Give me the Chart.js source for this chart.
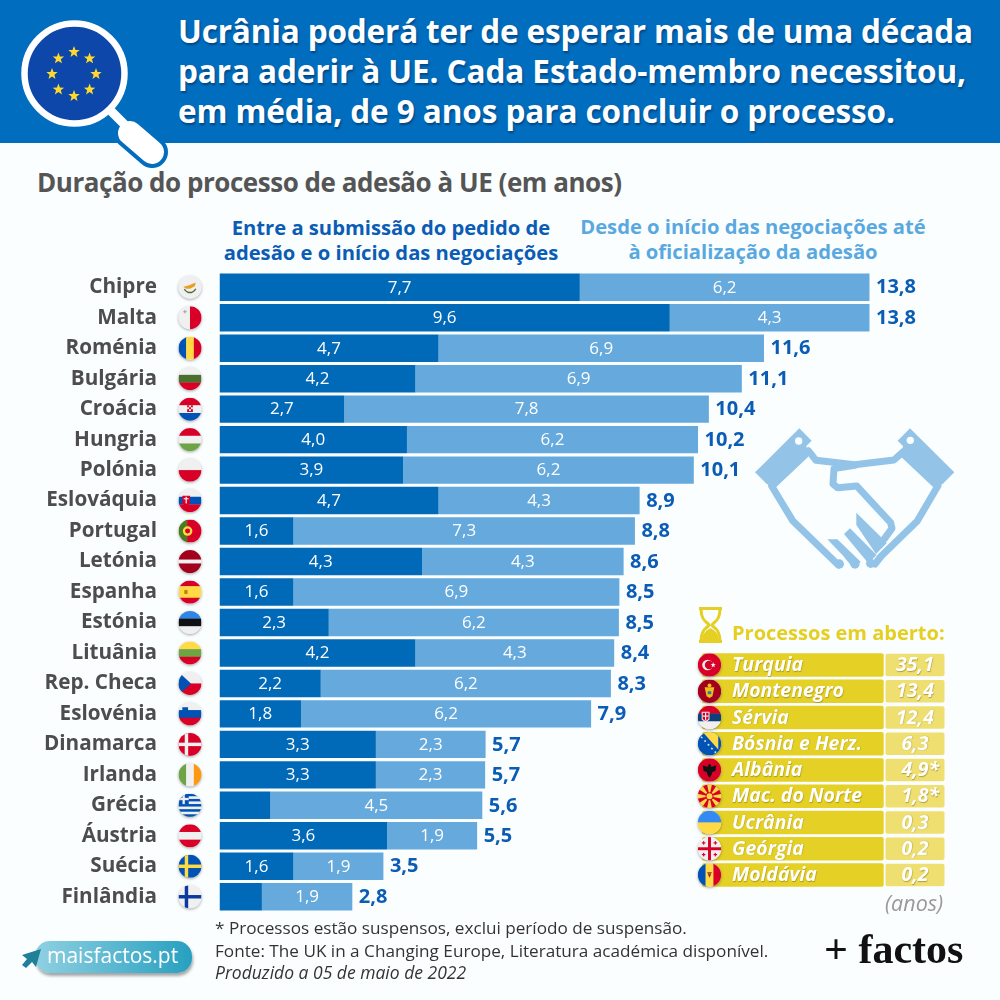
<!DOCTYPE html>
<html lang="pt"><head><meta charset="utf-8">
<script src="https://cdn.jsdelivr.net/npm/chart.js@4"></script>
<style>
html,body{margin:0;padding:0;background:#fbfeff;width:1000px;height:1000px;overflow:hidden}
body{position:relative;font-family:"Open Sans",sans-serif}
#band{position:absolute;left:0;top:0;width:1000px;height:143px;background:#006dbe}
.t{position:absolute;white-space:nowrap;line-height:1}
.h{font-size:31.5px;font-weight:700;color:#fff;text-shadow:1px 2px 2px rgba(0,40,90,.55);left:178px}
#c{position:absolute;left:0;top:0;width:1000px;height:1000px}
svg{position:absolute;left:0;top:0}
</style></head><body>
<div id="band"></div>
<svg width="1000" height="1000" viewBox="0 0 1000 1000" id="art">
 <defs><linearGradient id="pill" x1="0" x2="1"><stop offset="0" stop-color="#8fd0e2"/><stop offset="1" stop-color="#27a0c0"/></linearGradient>
 <filter id="sh" x="-20%" y="-20%" width="140%" height="150%"><feDropShadow dx="1" dy="3" stdDeviation="1.5" flood-color="#000" flood-opacity=".35"/></filter></defs>
 <!-- magnifier -->
 <g stroke-linecap="round">
  <line x1="130" y1="133" x2="152" y2="152" stroke="#006dbe" stroke-width="32"/>
  <line x1="112" y1="112" x2="125" y2="125" stroke="#fff" stroke-width="9"/>
  <line x1="130" y1="133" x2="152" y2="152" stroke="#fff" stroke-width="24"/>
 </g>
 <circle cx="74.500" cy="73.500" r="50" fill="#0d47a9" stroke="#fff" stroke-width="6.500"/>
 <g id="stars" fill="#ffd92e"></g>
 <!-- handshake -->
 <g transform="translate(740 410) scale(.3333)" fill="#93c4e8" stroke="none">
  <polygon points="45,187 178,55 215,92 199,108 205,140 108,232 80,222"/>
  <polygon points="643,187 510,55 473,92 489,108 483,140 580,232 608,222"/>
  <circle cx="176" cy="93" r="11" fill="#fbfeff"/><circle cx="511" cy="91" r="11" fill="#fbfeff"/>
  <g fill="none" stroke="#93c4e8" stroke-width="21" stroke-linejoin="round" stroke-linecap="round">
   <polyline points="205,122 228,151 344,164 462,150 490,125"/>
   <polyline points="95,228 158,332 295,465"/>
   <polyline points="594,227 532,333 424,438 405,462"/>
   <polyline points="344,166 282,176 279,222 293,233 350,228 452,338 456,355 432,388"/>
  </g>
  <polygon points="262,388 292,388 362,455 340,475 308,436"/>
  <polygon points="312,372 330,355 410,435 385,460"/>
  <polygon points="349,308 420,378 440,400 408,432 349,345"/>
  <circle cx="298" cy="462" r="14"/><circle cx="345" cy="462" r="14"/><circle cx="392" cy="460" r="14"/>
 </g>
 <!-- hourglass -->
 <g fill="none" stroke="#e5cf22" stroke-width="3">
  <path d="M699 608.500H722M699 641.500H722"/>
  <path d="M701 609C701 622 708 622 709 625C708 628 701 628 701 641M720 609C720 622 713 622 712 625C713 628 720 628 720 641"/>
 </g>
 <path d="M702 640C703 631 708 630 710.500 628C713 630 718 631 719 640Z" fill="#e5cf22"/>
 <!-- site pill -->
 <rect x="35" y="941" width="157" height="32" rx="15" fill="url(#pill)" filter="url(#sh)"/>
 <path d="M41 949L22 955L27 959L22 965L26 968L32 962L36 967Z" fill="#1f8098"/>
</svg>
<div class="t h" id="tt1" style="top:15px">Ucrânia poderá ter de esperar mais de uma década</div>
<div class="t h" id="tt2" style="top:55px">para aderir à UE. Cada Estado-membro necessitou,</div>
<div class="t h" id="tt3" style="top:95px">em média, de 9 anos para concluir o processo.</div>
<div class="t" id="sub" style="left:37px;top:169px;font-size:26px;font-weight:700;color:#555">Duração do processo de adesão à UE (em anos)</div>
<div id="lg0" class="t" style="left:191px;width:400px;top:215px;text-align:center;font-size:20.2px;font-weight:700;color:#0a5cb5;line-height:25px"></div>
<div id="lg1" class="t" style="left:553px;width:400px;top:214px;text-align:center;font-size:20.2px;font-weight:700;color:#5aa8e0;line-height:25px"></div>
<canvas id="c" width="1000" height="1000"></canvas>
<div class="t" style="left:215px;top:919px;font-size:17.15px;color:#333">* Processos estão suspensos, exclui período de suspensão.</div>
<div class="t" style="left:215px;top:942px;font-size:17.15px;color:#333">Fonte: The UK in a Changing Europe, Literatura académica disponível.</div>
<div class="t" style="left:215px;top:964px;font-size:17.5px;font-style:italic;color:#333">Produzido a 05 de maio de 2022</div>
<div class="t" style="left:47px;top:945px;font-size:21px;color:#fff">maisfactos.pt</div>
<div class="t" style="left:824px;top:928px;font-size:42px;font-weight:700;color:#111;font-family:'Liberation Serif',serif">+ factos</div>
<div class="t" style="left:885px;top:892px;font-size:21.5px;font-style:italic;color:#999">(anos)</div>
<script>
const seriesNames=[["Entre a submissão do pedido de","adesão e o início das negociações"],["Desde o início das negociações até","à oficialização da adesão"]];
const countries=["Chipre","Malta","Roménia","Bulgária","Croácia","Hungria","Polónia","Eslováquia","Portugal","Letónia","Espanha","Estónia","Lituânia","Rep. Checa","Eslovénia","Dinamarca","Irlanda","Grécia","Áustria","Suécia","Finlândia"];
const startYears=[7.65,9.56,4.65,4.16,2.65,3.98,3.9,4.65,1.57,4.3,1.57,2.32,4.16,2.15,1.73,3.32,3.32,1.08,3.56,1.57,0.9];
const negotiationYears=[6.15,4.24,6.91,6.93,7.74,6.18,6.17,4.27,7.25,4.28,6.92,6.16,4.22,6.16,6.16,2.33,2.32,4.5,1.91,1.91,1.92];
const startLabels=["7,7","9,6","4,7","4,2","2,7","4,0","3,9","4,7","1,6","4,3","1,6","2,3","4,2","2,2","1,8","3,3","3,3","","3,6","1,6",""];
const negotiationLabels=["6,2","4,3","6,9","6,9","7,8","6,2","6,2","4,3","7,3","4,3","6,9","6,2","4,3","6,2","6,2","2,3","2,3","4,5","1,9","1,9","1,9"];
const totalLabels=["13,8","13,8","11,6","11,1","10,4","10,2","10,1","8,9","8,8","8,6","8,5","8,5","8,4","8,3","7,9","5,7","5,7","5,6","5,5","3,5","2,8"];
const openTitle="Processos em aberto:";
const openNames=["Turquia","Montenegro","Sérvia","Bósnia e Herz.","Albânia","Mac. do Norte","Ucrânia","Geórgia","Moldávia"];
const openValues=["35,1","13,4","12,4","6,3","4,9","1,8","0,3","0,2","0,2"];
const openNotes=["","","","","*","*","","",""];

function fitW(id,w){const e=document.getElementById(id);const r=document.createRange();r.selectNodeContents(e);const cur=r.getBoundingClientRect().width;const n=e.textContent.length;e.style.letterSpacing=((w-cur)/(n-1)).toFixed(3)+'px';}
fitW('tt1',795);fitW('tt2',788);fitW('tt3',717);fitW('sub',585);
document.getElementById('lg0').innerHTML=seriesNames[0].join('<br>');
document.getElementById('lg1').innerHTML=seriesNames[1].join('<br>');

const starG=document.getElementById('stars');let sg='';
function starPts(cx,cy,R){let p=[];for(let i=0;i<10;i++){const a=-Math.PI/2+i*Math.PI/5,r=i%2?R*.42:R;p.push((cx+r*Math.cos(a)).toFixed(1)+','+(cy+r*Math.sin(a)).toFixed(1));}return p.join(' ');}
for(let i=0;i<8;i++){const a=i*Math.PI/4;sg+=`<polygon points="${starPts(74+22*Math.cos(a),74+22*Math.sin(a),6)}"/>`;}
starG.innerHTML=sg;

function hs(c,cols,w){w=w||cols.map(()=>1);const t=w.reduce((a,b)=>a+b,0);let y=-12;cols.forEach((k,i)=>{const h=24*w[i]/t;c.fillStyle=k;c.fillRect(-12,y,24,h+.3);y+=h;});}
function vs(c,cols,w){w=w||cols.map(()=>1);const t=w.reduce((a,b)=>a+b,0);let x=-12;cols.forEach((k,i)=>{const h=24*w[i]/t;c.fillStyle=k;c.fillRect(x,-12,h+.3,24);x+=h;});}
function nord(c,bg,cr){c.fillStyle=bg;c.fillRect(-12,-12,24,24);c.fillStyle=cr;c.fillRect(-12,-1.8,24,3.6);c.fillRect(-5.5,-12,3.6,24);}
function dot(c,x,y,r,k){c.fillStyle=k;c.beginPath();c.arc(x,y,r,0,7);c.fill();}
function star(c,x,y,R,k,rot){c.fillStyle=k;c.beginPath();for(let i=0;i<10;i++){const a=(rot||-Math.PI/2)+i*Math.PI/5,r=i%2?R*.42:R;c[i?'lineTo':'moveTo'](x+r*Math.cos(a),y+r*Math.sin(a));}c.closePath();c.fill();}
function poly(c,k,p){c.fillStyle=k;c.beginPath();p.forEach((q,i)=>c[i?'lineTo':'moveTo'](q[0],q[1]));c.closePath();c.fill();}
const R='#d80027',Bl='#0052b4',Y='#ffda44',G='#496e2d',W='#f0f0f0';
const FLAGS={
"Chipre":c=>{c.fillStyle=W;c.fillRect(-12,-12,24,24);poly(c,'#e8a020',[[-7,-.5],[-1,-2],[6,-5],[5,-1],[0,1.5],[-4,1.5]]);c.strokeStyle=G;c.lineWidth=1.4;c.beginPath();c.arc(0,-1,6.5,.4,2.7);c.stroke();},
"Malta":c=>{vs(c,[W,R]);c.fillStyle='#acabb1';c.fillRect(-7,-7,3.500,1.300);c.fillRect(-6,-8,1.300,3.500);},
"Roménia":c=>vs(c,[Bl,Y,R]),
"Bulgária":c=>hs(c,[W,'#496e2d',R]),
"Croácia":c=>{hs(c,[R,W,Bl]);c.fillStyle=R;c.fillRect(-3,-4,6,7);c.fillStyle=W;c.fillRect(-1,-4,2,2);c.fillRect(-3,-2,2,2);c.fillRect(1,-2,2,2);c.fillRect(-1,0,2,2);},
"Hungria":c=>hs(c,[R,W,'#6da544']),
"Polónia":c=>hs(c,[W,R]),
"Eslováquia":c=>{hs(c,[W,Bl,R]);poly(c,R,[[-8,-5],[0,-5],[0,3],[-4,6],[-8,3]]);c.fillStyle=W;c.fillRect(-4.6,-4,1.300,7);c.fillRect(-6.500,-2.500,5,1.200);},
"Portugal":c=>{vs(c,['#4a7c20',R],[9,15]);dot(c,-2.500,0,5,Y);dot(c,-2.500,0,2.600,R);},
"Letónia":c=>hs(c,['#a2001d',W,'#a2001d'],[5,2,5]),
"Espanha":c=>{hs(c,['#d80027',Y,'#d80027'],[1,2,1]);c.fillStyle='#b8860b';c.fillRect(-6,-2,3.500,4);},
"Estónia":c=>hs(c,['#2e86e6','#111',W]),
"Lituânia":c=>hs(c,[Y,'#6da544',R]),
"Rep. Checa":c=>{hs(c,[W,R]);poly(c,Bl,[[-12,-12],[1,0],[-12,12]]);},
"Eslovénia":c=>{hs(c,[W,Bl,R]);poly(c,Bl,[[-8,-7],[-2,-7],[-2,-3],[-5,-1],[-8,-3]]);},
"Dinamarca":c=>nord(c,R,W),
"Irlanda":c=>vs(c,['#6da544',W,'#ff9811']),
"Grécia":c=>{hs(c,[Bl,W,Bl,W,Bl,W,Bl,W,Bl]);c.fillStyle=Bl;c.fillRect(-12,-12,10.700,10.700);c.fillStyle=W;c.fillRect(-7.800,-12,2.400,10.700);c.fillRect(-12,-7.800,10.700,2.400);},
"Áustria":c=>hs(c,[R,W,R]),
"Suécia":c=>nord(c,Bl,Y),
"Finlândia":c=>nord(c,W,'#0a3aa0'),
"Turquia":c=>{c.fillStyle=R;c.fillRect(-12,-12,24,24);dot(c,-2,0,5.500,W);dot(c,-.5,0,4.300,R);star(c,3.800,0,2.800,W);},
"Montenegro":c=>{c.fillStyle='#a2001d';c.fillRect(-12,-12,24,24);poly(c,'#eac117',[[-5,-4],[5,-4],[3,5],[0,7],[-3,5]]);dot(c,0,-6,2,'#eac117');c.fillStyle='#3a6fc0';c.fillRect(-1.800,0,3.600,3);},
"Sérvia":c=>{hs(c,[R,'#0c4076',W]);poly(c,W,[[-8,-6],[0,-6],[0,2],[-4,5],[-8,2]]);poly(c,R,[[-7,-5],[-1,-5],[-1,1.500],[-4,3.500],[-7,1.500]]);c.fillStyle=W;c.fillRect(-4.600,-5,1.200,8);c.fillRect(-7,-2,6,1.200);},
"Bósnia e Herz.":c=>{c.fillStyle=Bl;c.fillRect(-12,-12,24,24);poly(c,Y,[[-7,-12],[9,-12],[9,6]]);for(let i=0;i<5;i++)star(c,-8+i*3.500,-6.500+i*3.800,1.500,W);},
"Albânia":c=>{c.fillStyle=R;c.fillRect(-12,-12,24,24);poly(c,'#111',[[-7,-5],[-2,-3],[-1,-6],[1,-6],[2,-3],[7,-5],[6,1],[3,2],[2,5],[0,8],[-2,5],[-3,2],[-6,1]]);},
"Mac. do Norte":c=>{c.fillStyle=R;c.fillRect(-12,-12,24,24);for(let i=0;i<8;i++){const a=i*Math.PI/4;const d=.2;poly(c,Y,[[0,0],[16*Math.cos(a-d),16*Math.sin(a-d)],[16*Math.cos(a+d),16*Math.sin(a+d)]]);}dot(c,0,0,4,R);dot(c,0,0,3,Y);},
"Ucrânia":c=>hs(c,['#338af3',Y]),
"Geórgia":c=>{c.fillStyle=W;c.fillRect(-12,-12,24,24);c.fillStyle=R;c.fillRect(-1.500,-12,3,24);c.fillRect(-12,-1.500,24,3);[[-6,-6],[6,-6],[-6,6],[6,6]].forEach(p=>{c.fillRect(p[0]-1.800,p[1]-.6,3.600,1.200);c.fillRect(p[0]-.6,p[1]-1.800,1.200,3.600);});},
"Moldávia":c=>{vs(c,[Bl,Y,R]);poly(c,'#a2602d',[[-2.500,-3],[2.500,-3],[0,3]]);poly(c,R,[[-1.500,-.5],[1.500,-.5],[0,1.800]]);}
};
function drawFlag(c,key,x,y,r){
 c.save();c.shadowColor='rgba(0,0,0,.35)';c.shadowBlur=3;c.shadowOffsetY=1;c.fillStyle='#f4f4f4';c.beginPath();c.arc(x,y,r,0,7);c.fill();c.restore();
 c.save();c.beginPath();c.arc(x,y,r,0,7);c.clip();c.translate(x,y);c.scale(r/12,r/12);FLAGS[key](c);c.restore();
}
const FONT='"Open Sans",sans-serif';
const overlay={id:'overlay',afterDatasetsDraw(ch){
 const c=ch.ctx,ys=ch.scales.y,xs=ch.scales.x;c.save();
 c.textBaseline='middle';
 countries.forEach((k,i)=>{
  const y=ys.getPixelForValue(i);
  drawFlag(c,k,190,y,11.500);
  const a=startYears[i],b=negotiationYears[i];
  c.font='400 17px '+FONT;c.fillStyle='#fff';c.textAlign='center';
  if(startLabels[i])c.fillText(startLabels[i],(xs.getPixelForValue(0)+xs.getPixelForValue(a))/2,y+.5);
  c.fillText(negotiationLabels[i],(xs.getPixelForValue(a)+xs.getPixelForValue(a+b))/2,y+.5);
  c.font='700 20px '+FONT;c.fillStyle='#0a5cb5';c.textAlign='left';
  c.fillText(totalLabels[i],xs.getPixelForValue(a+b)+6.500,y+.5);
 });
 // open processes panel
 c.font='700 20px '+FONT;c.fillStyle='#e5cf22';c.textAlign='left';c.fillText(openTitle,732,634);
 openNames.forEach((n,i)=>{
  const y=665+i*26.25;
  c.fillStyle='#e5d025';c.beginPath();c.roundRect(702,y-11.700,181.700,23.400,2);c.fill();
  c.fillStyle='#efdf70';c.beginPath();c.roundRect(885.500,y-11.200,59,22.400,2);c.fill();
  drawFlag(c,n,709.500,y,11.700);
  c.save();c.shadowColor='rgba(120,100,0,.5)';c.shadowBlur=1;c.shadowOffsetX=.5;c.shadowOffsetY=.5;
  c.font='italic 700 19.5px '+FONT;c.fillStyle='#fff';c.textAlign='left';c.fillText(n,732,y+.5);
  const v=openValues[i],w=c.measureText(v).width;
  c.fillText(v+openNotes[i],915-w/2,y+.5);c.restore();
 });
 c.restore();
}};
new Chart(document.getElementById('c'),{
 type:'bar',
 data:{labels:countries,datasets:[
  {label:seriesNames[0].join(' '),data:startYears,backgroundColor:'#0069b8',barPercentage:.9,categoryPercentage:1},
  {label:seriesNames[1].join(' '),data:negotiationYears,backgroundColor:'#65a9dd',barPercentage:.9,categoryPercentage:1}
 ]},
 options:{indexAxis:'y',responsive:false,animation:false,devicePixelRatio:1,
  layout:{padding:{left:0,right:3.35,top:272,bottom:88}},
  plugins:{legend:{display:false},title:{display:false},tooltip:{enabled:false}},
  scales:{
   x:{stacked:true,display:false,min:0,max:16.5},
   y:{stacked:true,grid:{display:false,drawTicks:false},border:{display:false},
      afterFit(s){s.width=219.5;},
      ticks:{color:'#4d4d4d',font:{family:FONT,size:20.7,weight:'700'},padding:62.5,autoSkip:false}}
  }
 },
 plugins:[overlay]
});
</script>
</body></html>
